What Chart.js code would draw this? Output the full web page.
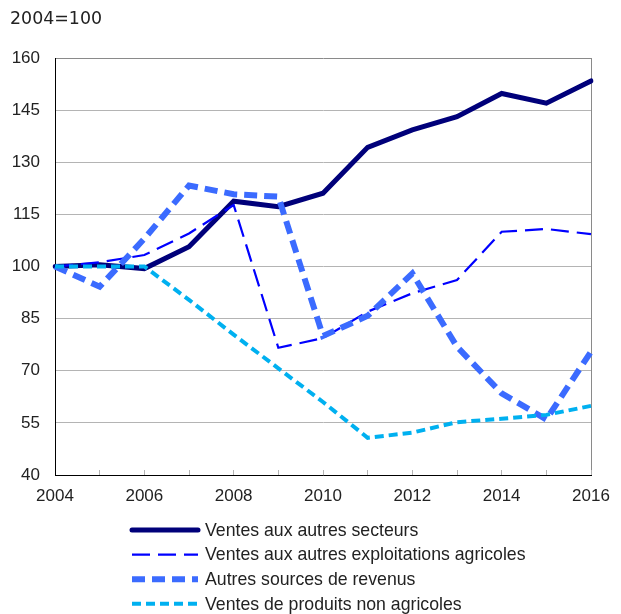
<!DOCTYPE html>
<html>
<head>
<meta charset="utf-8">
<script src="https://cdn.jsdelivr.net/npm/chart.js@4.4.0/dist/chart.umd.min.js"></script>
<style>
  html, body { margin: 0; padding: 0; background: #fff; }
  #wrap { width: 621px; height: 614px; }
</style>
</head>
<body>
<div id="wrap"><canvas id="chart"></canvas></div>
<script>
const unitLabel = "2004=100"
const years = ["2004", "2005", "2006", "2007", "2008", "2009", "2010", "2011", "2012", "2013", "2014", "2015", "2016"]
const yTicks = [40, 55, 70, 85, 100, 115, 130, 145, 160]

const seriesNames = [
    "Ventes aux autres secteurs",
    "Ventes aux autres exploitations agricoles",
    "Autres sources de revenus",
    "Ventes de produits non agricoles",
]
const autresSecteurs = [100, 100.5, 99.4, 105.7, 118.8, 117.2, 121.1, 134.3, 139.3, 143.1, 149.8, 147.0, 153.4]
const autresExploitations = [100, 101.2, 103.3, 109.5, 117.7, 76.6, 79.4, 87.0, 92.3, 96.1, 110.0, 110.8, 109.3]
const autresSources = [100, 94.2, 108, 123.3, 120.8, 120.1, 80.0, 85.8, 98.0, 76.9, 63.5, 56.0, 75.5]
const nonAgricoles = [100, 100, 100, 90.4, 80.4, 70.7, 61.0, 50.7, 52.2, 55.2, 56.2, 57.3, 59.9]

const textColor = "#222"
const gridGray = "#b4b4b4"
const frameGray = "#8a8a8a"

// legend stacked under the plot, one row per series
const stackedLegend = {
    id: "stackedLegend",
    afterDraw(chart) {
        const ctx = chart.ctx
        ctx.save()
        ctx.fillStyle = textColor
        ctx.textBaseline = "middle"
        ctx.font = '17.4px "DejaVu Sans"'
        ctx.fillText(unitLabel, 10, 19)

        ctx.font = '17.7px "Liberation Sans", Arial'
        chart.data.datasets.forEach((ds, i) => {
            const y = 530 + i * 24.6
            ctx.beginPath()
            ctx.setLineDash(ds.borderDash || [])
            ctx.lineWidth = ds.borderWidth
            ctx.strokeStyle = ds.borderColor
            ctx.lineCap = ds.borderCapStyle || "butt"
            ctx.moveTo(132, y)
            ctx.lineTo(198, y)
            ctx.stroke()
            ctx.setLineDash([])
            ctx.fillStyle = textColor
            ctx.fillText(ds.label, 205, y + 1)
        })
        ctx.restore()
    },
}

new Chart(document.getElementById("chart"), {
    type: "line",
    data: {
        labels: years,
        datasets: [
            {
                label: seriesNames[0],
                data: autresSecteurs,
                borderColor: "#00007a",
                borderWidth: 5,
                borderCapStyle: "round",
                order: 4,
            },
            {
                label: seriesNames[1],
                data: autresExploitations,
                borderColor: "#0000ff",
                borderWidth: 2.2,
                borderDash: [18, 8],
                order: 3,
            },
            {
                label: seriesNames[2],
                data: autresSources,
                borderColor: "#3b6bff",
                borderWidth: 6,
                borderDash: [13, 7],
                order: 2,
            },
            {
                label: seriesNames[3],
                data: nonAgricoles,
                borderColor: "#00b0f0",
                borderWidth: 4,
                borderDash: [9, 5],
                order: 1,
            },
        ],
    },
    plugins: [stackedLegend],
    options: {
        responsive: true,
        maintainAspectRatio: false,
        animation: false,
        layout: {
            padding: { top: 58, right: 30, bottom: 109, left: 0 },
        },
        elements: {
            point: { radius: 0, hoverRadius: 0 },
            line: { tension: 0, fill: false },
        },
        plugins: {
            legend: { display: false },
            title: { display: false },
            tooltip: { enabled: false },
        },
        scales: {
            x: {
                type: "category",
                offset: false,
                afterFit: (scale) => {
                    scale.height = 30
                    scale.paddingLeft = 0
                    scale.paddingRight = 0
                },
                border: { color: "#000", width: 1 },
                grid: {
                    drawOnChartArea: true,
                    color: (c) => (c.index === years.length - 1 ? frameGray : "rgba(0,0,0,0)"),
                    tickColor: gridGray,
                    tickLength: -5,
                },
                ticks: {
                    autoSkip: false,
                    maxRotation: 0,
                    padding: 16,
                    color: textColor,
                    font: { family: '"Liberation Sans", Arial', size: 17 },
                    callback: (v, i) => (i % 2 ? "" : years[i]),
                },
            },
            y: {
                min: yTicks[0],
                max: yTicks[yTicks.length - 1],
                afterFit: (scale) => {
                    scale.width = 55
                },
                afterBuildTicks: (scale) => {
                    scale.ticks = yTicks.map((v) => ({ value: v }))
                },
                border: { color: "#000", width: 1 },
                grid: {
                    drawTicks: false,
                    color: (c) => (c.tick.value === 160 ? frameGray : gridGray),
                },
                ticks: {
                    padding: 15,
                    color: textColor,
                    font: { family: '"Liberation Sans", Arial', size: 17 },
                },
            },
        },
    },
})
</script>
</body>
</html>
